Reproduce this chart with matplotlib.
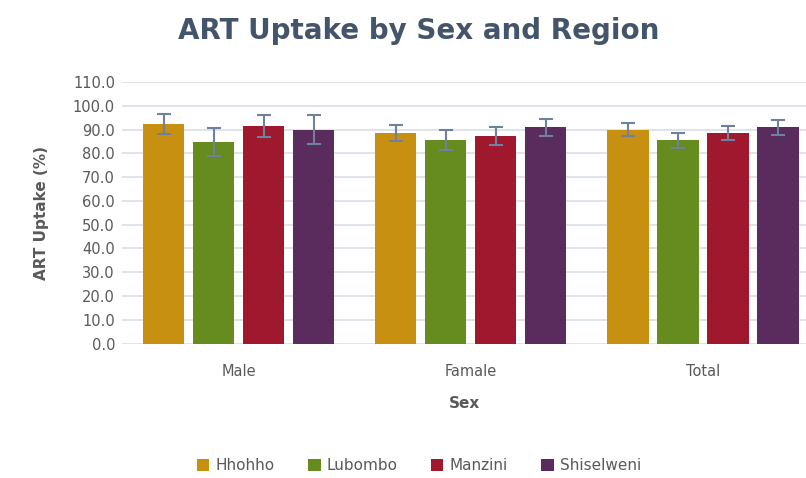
import matplotlib.pyplot as plt
import numpy as np

# data
categories = ["Male", "Famale", "Total"]
regions = ["Hhohho", "Lubombo", "Manzini", "Shiselweni"]
hhohho = [92.3, 88.5, 90.0]
lubombo = [84.8, 85.4, 85.4]
manzini = [91.4, 87.1, 88.5]
shiselweni = [90.0, 90.9, 90.9]
err_hhohho = [4.2, 3.4, 2.7]
err_lubombo = [6.0, 4.2, 3.0]
err_manzini = [4.6, 3.8, 3.0]
err_shiselweni = [6.0, 3.7, 3.0]

colors = ["#C79010", "#668B1E", "#A0182E", "#592C5D"]
series = [hhohho, lubombo, manzini, shiselweni]
errors = [err_hhohho, err_lubombo, err_manzini, err_shiselweni]

fig = plt.figure(figsize=(8.06, 4.78), dpi=100)
ax = fig.add_axes([122 / 806, 1 - 343.5 / 478, (806 - 122) / 806, (343.5 - 82) / 478])

x = np.arange(len(categories))
step = 0.2155
width = 0.177
for i, (vals, errs) in enumerate(zip(series, errors)):
    ax.bar(x + (i - 1.5) * step, vals, width, color=colors[i], label=regions[i],
           yerr=errs, error_kw=dict(ecolor="#6E829E", elinewidth=1.5, capsize=5, capthick=1.5),
           zorder=3)

ax.set_ylim(0, 110)
ax.set_xlim(-0.504, 2.444)
ax.set_yticks(np.arange(0, 111, 10))
ax.set_yticklabels([f"{v:.1f}" for v in np.arange(0, 111, 10)])
ax.set_xticks(x)
ax.set_xticklabels(categories)
ax.grid(axis="y", color="#D9DEE6", linewidth=1.2, zorder=0)
for s in ax.spines.values():
    s.set_visible(False)
ax.tick_params(axis="both", length=0, labelsize=10.5, labelcolor="#595959")
ax.tick_params(axis="x", pad=15)
ax.tick_params(axis="y", pad=5)

ax.set_ylabel("ART Uptake (%)", fontsize=11, fontweight="bold", color="#595959", labelpad=17)
ax.set_xlabel("Sex", fontsize=11, fontweight="bold", color="#595959", labelpad=12)

fig.text(0.519, 0.935, "ART Uptake by Sex and Region", ha="center", va="center",
         fontsize=20, fontweight="bold", color="#44546A")

fig.legend(loc="center", bbox_to_anchor=(0.52, 1 - 466 / 478), ncol=4, frameon=False,
           fontsize=11, handlelength=0.8, handleheight=0.8, handletextpad=0.4,
           columnspacing=2.2, labelcolor="#595959")

fig.savefig("out.png", dpi=100)
